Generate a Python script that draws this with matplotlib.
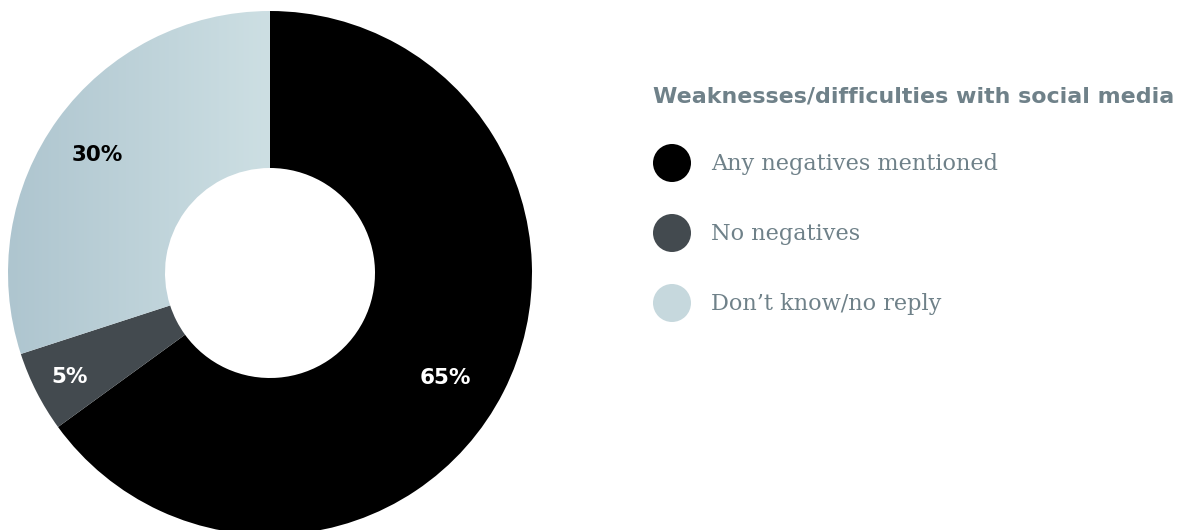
import matplotlib
matplotlib.use("Agg")
import matplotlib.pyplot as plt
import numpy as np
from matplotlib.colors import LinearSegmentedColormap

# Survey shares
categories = ["Any negatives mentioned", "No negatives", "Don\u2019t know/no reply"]
shares = [65, 5, 30]
legend_title = "Weaknesses/difficulties with social media"

W, H = 1184, 530
fig = plt.figure(figsize=(W / 100, H / 100), dpi=100)
ax = fig.add_axes([0, 0, 1, 1])

cx, cy = 270, H - 273
r_out, r_in = 262, 105
colors = ["#000000", "#434a4f", "#c4d6dc"]

wedges, _ = ax.pie(shares, colors=colors, startangle=90, counterclock=False,
                   center=(cx, cy), radius=r_out, frame=True,
                   wedgeprops=dict(width=r_out - r_in, linewidth=0))
ax.set_xlim(0, W)
ax.set_ylim(0, H)
ax.set_aspect("equal")
ax.axis("off")

# horizontal gradient fill for the light slice
grad = LinearSegmentedColormap.from_list("g", ["#aec5cf", "#cddfe3"])
img = ax.imshow(np.linspace(0, 1, 256)[None, :], cmap=grad, aspect="auto",
                extent=(cx - r_out, cx, cy - r_out, cy + r_out), zorder=2)
img.set_clip_path(wedges[2])
wedges[2].set_facecolor("none")

# percentage labels
label_pos = [(445, H - 378), (70, H - 377), (97, H - 155)]
label_col = ["white", "white", "black"]
for v, (x, y), c in zip(shares, label_pos, label_col):
    ax.text(x, y, f"{v}%", ha="center", va="center", color=c,
            fontsize=15.5, fontweight="bold", family="DejaVu Sans", zorder=5)

# legend
txt_col = "#6f8189"
ax.text(653, H - 96, legend_title, ha="left", va="center", color=txt_col,
        fontsize=15.9, fontweight="bold", family="DejaVu Sans")
ys = [163, 233, 303]
leg_cols = ["#000000", "#434a4f", "#c6d8dd"]
for name, yy, c in zip(categories, ys, leg_cols):
    ax.add_patch(plt.Circle((672, H - yy), 19, color=c, lw=0))
    ax.text(711, H - yy - 1, name, ha="left", va="center", color=txt_col,
            fontsize=16.1, family="DejaVu Serif", fontweight="light")

fig.savefig("out.png", dpi=100)
